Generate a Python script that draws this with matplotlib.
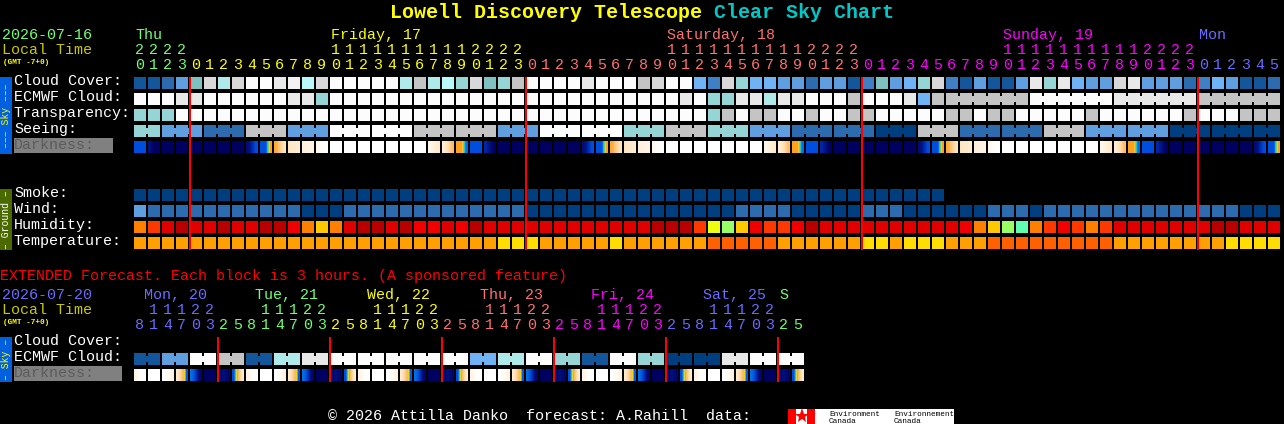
import matplotlib
matplotlib.use("Agg")
import matplotlib.pyplot as plt
from matplotlib.colors import LinearSegmentedColormap

MONO = "Liberation Mono"

# block colours, one letter per level
sky_colors = {
    "a": "#003f7f", "b": "#13569a", "c": "#2c6cae", "d": "#3f7fc3",
    "e": "#5f9fe0", "f": "#70b3f5", "g": "#7fc0c0", "h": "#95d5d5",
    "i": "#aeeaea", "j": "#b8f8f8", "k": "#c4c4c4", "l": "#d8d8d8",
    "m": "#e8e8e8", "n": "#f2f2f2", "w": "#fcfcfc",
}
ground_colors = {
    "O": "#ff8000", "R": "#ff3800", "r": "#e00000", "s": "#f00000", "d": "#b80000",
    "A": "#ffc800", "Y": "#eeff10", "G": "#99ff66", "M": "#5fffaf",
    "o": "#ffa000", "y": "#ffdd00", "D": "#ff6000",
}

cloud_cover = ("bbceglilww" "mnjlwwwwwi" "kijhlghkww" "wwmwwwklww"
               "fdlhffeece" "ebdgefhldb" "ebbemhmfee" "lmeeecdfeb" "bc")
ecmwf_cloud = ("wwwmmwwwww" "wmmhwwwwww" "wwwwwwwwww" "wwwwwwwwwm"
               "whhmmimmww" "wkwwwmfkkk" "kkkkwwwwww" "mmmmmmkkkk" "kk")
transparency = ("hhhwwwwwww" "wwwwwwwwww" "wwwwwwwwww" "wwwwwwwwww"
                "whkwkkwwkw" "wkkwwwwwkk" "wkkwwwwwkw" "wwwwwkwwwk" "kk")
seeing = ("hheeeccckk" "keeewwwwww" "kkkkkkeeew" "wwwwwhhhkk"
          "khhheeeccc" "cccaaakkkc" "ccccckkkee" "eeeeaaaaaa" "aa")
smoke = "a" * 58
wind = ("eccccccccc" "ccaaaccccc" "ccccccccaa" "aaaaaaaaaa"
        "aaaccccaaa" "aacccaaaaa" "acccaccccc" "ccccccccca" "aa")
humidity = ("ORrdrrdrrd" "dsOAOrddrd" "ssrsdrrrrr" "rrrrrrrddd"
            "RYGAsRRsdr" "rrrrrrrrrs" "OAGMORsROR" "rrrrrrrddr" "rr")
temperature = ("oooooooooo" "oooooooooo" "ooooooyyyo" "ooooyooooo"
               "oDDDDDoooo" "ooyyoyyyoo" "oDDDDDDDDD" "ooooooooyy" "yy")

ext_cloud = ("bbeewwkkbb" "iimmwwwwww" "wwwwffiiww" "hhbbwwhhaa" "aammwwww")

# darkness, 0 = full sun, 7 = full dark: samples across each block
night = [(7, 7, 7)] * 6
dawn = [(6.6, 6, 5.5), (5.5, 5.5, 3), (2.8, 1.8, 1.2), (1.1, 1, .9), (.7, .6, .5), (.3, .1, 0)]
day = [(0, 0, 0)] * 7
dusk = [(.4, .7, 1), (.9, 1.3, 2.2), (3, 3, 5.2), (5.5, 5.5, 5.5), (6, 6.5, 7)]
darkness = ([(5.5, 5.5, 5.5), (6.5, 7, 7)] + night + dawn + day + dusk + night + dawn + day
            + dusk + night + dawn + day + dusk + night + dawn[:2])
ext_day = [(.5, .1, 0), (0, 0, 0), (0, .1, .6), (1, 1.6, 2.4, 5.4),
           (5.2, 5.8, 6.8), (7, 7, 7), (6.8, 6.5, 6.8), (5.5, 2.5, 1)]
ext_darkness = ext_day * 6

hours = [20, 21, 22, 23] + list(range(24)) * 3 + [0, 1, 2, 3, 4, 5]
ext_hours = [8, 11, 14, 17, 20, 23] + [2, 5, 8, 11, 14, 17, 20, 23] * 5 + [2, 5]

GREEN, YELLOW, SALMON, MAGENTA, BLUE = "#70ff70", "#ffff00", "#ff7070", "#ff00ff", "#6a6aff"
main_days = [("Thu", 0, GREEN), ("Friday, 17", 14, YELLOW), ("Saturday, 18", 38, SALMON),
             ("Sunday, 19", 62, MAGENTA), ("Mon", 76, BLUE)]
main_hour_colors = [(0, GREEN), (4, YELLOW), (28, SALMON), (52, MAGENTA), (76, BLUE)]
ext_days = [("Mon, 20", 144, BLUE), ("Tue, 21", 255, GREEN), ("Wed, 22", 367, YELLOW),
            ("Thu, 23", 480, SALMON), ("Fri, 24", 591, MAGENTA), ("Sat, 25", 703, BLUE), ("S", 779, GREEN)]
ext_hour_colors = [(0, BLUE), (6, GREEN), (14, YELLOW), (22, SALMON), (30, MAGENTA), (38, BLUE), (46, GREEN)]

X0, PITCH, SIZE = 134, 14, 12

dark_cmap = LinearSegmentedColormap.from_list("darkness", [
    (0 / 7, "#ffffff"), (1 / 7, "#ffeacb"), (2 / 7, "#ffc67c"), (3 / 7, "#ffa020"),
    (3.5 / 7, "#f0e020"), (4 / 7, "#50d080"), (4.5 / 7, "#20c0e0"), (5 / 7, "#1080e0"),
    (5.5 / 7, "#0050e0"), (6.2 / 7, "#001a90"), (7 / 7, "#000060")])


def col_x(i):
    return X0 + PITCH * i


def text(x, y, s, color="white", size=10.8, **kw):
    ax.text(x, y - 1, s, color=color, fontsize=size, family=MONO, va="baseline", **kw)


def draw_row(values, palette, y, groups=()):
    xs = [col_x(i) for i in range(len(values))]
    ax.bar(xs, SIZE, SIZE, bottom=y, align="edge", color=[palette[v] for v in values],
           linewidth=0, antialiased=False)
    # linked blocks share a forecast value, joined by a narrow bridge
    for start, count in groups:
        for i in range(start, start + count - 1):
            ax.bar(col_x(i) + SIZE, 6, PITCH - SIZE, bottom=y + 3, align="edge",
                   color=palette[values[i]], linewidth=0, antialiased=False)


def draw_darkness(values, y):
    for i, v in enumerate(values):
        ax.imshow([list(v)], extent=(col_x(i), col_x(i) + SIZE, y + SIZE, y), aspect="auto",
                  cmap=dark_cmap, vmin=0, vmax=7, interpolation="bilinear",
                  interpolation_stage="data")


def draw_hours(hrs, color_steps, y_tens, y_ones):
    for i, h in enumerate(hrs):
        color = [c for start, c in color_steps if start <= i][-1]
        cx = col_x(i) + 5.5
        if h >= 10:
            text(cx, y_tens, str(h // 10), color, ha="center")
        text(cx, y_ones, str(h % 10), color, ha="center")


def side_tag(y0, y1, s, back, color):
    ax.bar(0, y1 - y0, 12, bottom=y0, align="edge", color=back, linewidth=0)
    ax.text(6, (y0 + y1) / 2, s, color=color, fontsize=7, family=MONO, rotation=90,
            ha="center", va="center")


def label_block(x1, y0, y1):
    ax.bar(14, y1 - y0, x1 - 14, bottom=y0, align="edge", color="#808080", linewidth=0)


def red_line(col, y0, y1):
    ax.vlines(col_x(col), y0, y1, color="#ff0000", linewidth=1.44, zorder=5)


fig = plt.figure(figsize=(12.84, 4.24), dpi=100, facecolor="black")
ax = fig.add_axes([0, 0, 1, 1])
ax.set_facecolor("black")

# title
ax.text(390, 18, "Lowell Discovery Telescope", color=YELLOW, fontsize=14.4, family=MONO,
        weight="bold", va="baseline")
ax.text(714, 18, "Clear Sky Chart", color="#00c8c8", fontsize=14.4, family=MONO,
        weight="bold", va="baseline")

# main chart header
text(2, 40, "2026-07-16", GREEN)
text(2, 55, "Local Time", "#c8c800")
text(3, 65, "(GMT -7+0)", YELLOW, size=5.6, weight="bold")
for name, col, color in main_days:
    text(col_x(col) + 1, 40, name, color)
draw_hours(hours, main_hour_colors, 55, 70)

# sky rows
side_tag(77, 154, "\u2013\u2013\u2013 Sky \u2013\u2013\u2013", "#0060e0", YELLOW)
labels = ["Cloud Cover:", "ECMWF Cloud:", "Transparency:", "Seeing:"]
for lab, base in zip(labels, [86, 102, 118, 134]):
    text(14, base, lab)
label_block(113, 138, 153)
text(14, 150, "Darkness:", "#5c5c5c")

draw_row(cloud_cover, sky_colors, 77)
draw_row(ecmwf_cloud, sky_colors, 93, [(58, 6), (64, 6), (70, 6), (76, 6)])
draw_row(transparency, sky_colors, 109)
draw_row(seeing, sky_colors, 125, [(0, 2)] + [(s, min(3, 82 - s)) for s in range(2, 82, 3)])
draw_darkness(darkness, 141)

# ground rows
side_tag(189, 250, "\u2013 Ground \u2013", "#4a6a00", "white")
for lab, base in zip(["Smoke:", "Wind:", "Humidity:", "Temperature:"], [198, 214, 230, 246]):
    text(14, base, lab)
draw_row(smoke, sky_colors, 189)
draw_row(wind, sky_colors, 205)
draw_row(humidity, ground_colors, 221)
draw_row(temperature, ground_colors, 237)

for col in [4, 28, 52, 76]:
    red_line(col, 77, 250)

# extended forecast
text(0, 281, "EXTENDED Forecast. Each block is 3 hours. (A sponsored feature)", "#ff0000")
text(2, 300, "2026-07-20", BLUE)
text(2, 315, "Local Time", "#c8c800")
text(3, 325, "(GMT -7+0)", YELLOW, size=5.6, weight="bold")
for name, x, color in ext_days:
    text(x, 300, name, color)
draw_hours(ext_hours, ext_hour_colors, 315, 330)

side_tag(337, 382, "\u2013 Sky \u2013", "#0060e0", YELLOW)
text(14, 346, "Cloud Cover:")
text(14, 362, "ECMWF Cloud:")
label_block(122, 366, 381)
text(14, 378, "Darkness:", "#5c5c5c")
draw_row(ext_cloud, sky_colors, 353, [(s, 2) for s in range(0, 48, 2)])
draw_darkness(ext_darkness, 369)

for col in range(6, 48, 8):
    red_line(col, 337, 382)

# footer and logo
text(328, 421, "\u00a9 2026 Attilla Danko  forecast: A.Rahill  data:")
ax.bar(788, 15, 166, bottom=409, align="edge", color="white", linewidth=0)
ax.bar([788, 807], 15, 8, bottom=409, align="edge", color="#ff0000", linewidth=0)
ax.plot([801.5], [416], marker="*", ms=11, color="#ff0000", markeredgewidth=0)
for x, top in [(829, "Environment"), (894, "Environnement")]:
    text(x, 417, top, "black", size=5.6)
    text(x, 424, "Canada", "black", size=5.6)

ax.set_xlim(0, 1284)
ax.set_ylim(424, 0)
ax.axis("off")

fig.savefig("out.png", dpi=100, facecolor="black")
